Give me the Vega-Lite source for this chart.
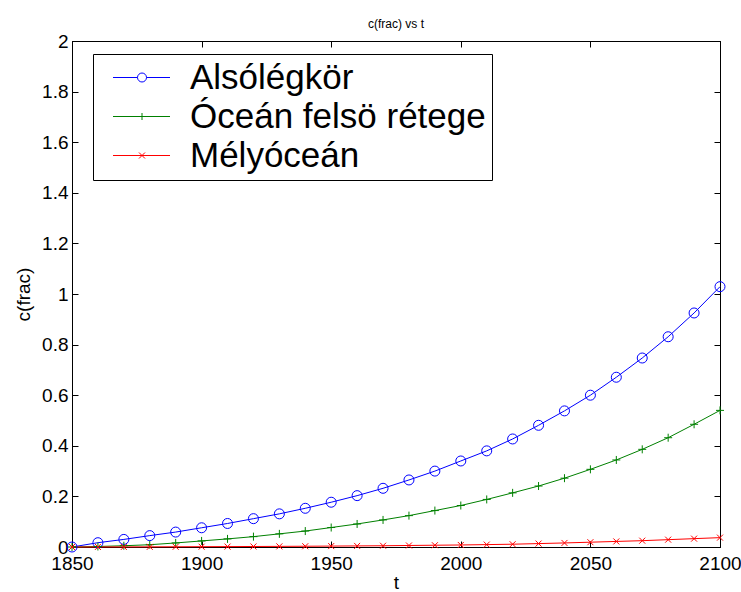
{
  "$schema": "https://vega.github.io/schema/vega-lite/v6.json",
  "width": 648,
  "height": 506,
  "autosize": {"type": "none"},
  "padding": {"left": 72, "top": 41, "right": 21, "bottom": 45},
  "background": "white",
  "title": {"text": "c(frac) vs t", "fontSize": 12, "fontWeight": "normal", "font": "Liberation Sans", "color": "black", "offset": 1},
  "config": {
    "view": {"stroke": "black", "strokeWidth": 1},
    "font": "Liberation Sans",
    "axis": {"grid": false, "labelFlush": false, "domainColor": "black", "tickColor": "black", "labelColor": "black", "titleColor": "black", "labelFont": "Liberation Sans", "titleFont": "Liberation Sans", "labelFontSize": 19, "titleFontSize": 19, "titleFontWeight": "normal", "domainWidth": 1, "tickWidth": 1}
  },
  "data": {"values": [
    {"t": 1850, "c": 0, "series": "Alsólégkör"},
    {"t": 1860, "c": 0.017, "series": "Alsólégkör"},
    {"t": 1870, "c": 0.030, "series": "Alsólégkör"},
    {"t": 1880, "c": 0.045, "series": "Alsólégkör"},
    {"t": 1890, "c": 0.059, "series": "Alsólégkör"},
    {"t": 1900, "c": 0.076, "series": "Alsólégkör"},
    {"t": 1910, "c": 0.093, "series": "Alsólégkör"},
    {"t": 1920, "c": 0.112, "series": "Alsólégkör"},
    {"t": 1930, "c": 0.131, "series": "Alsólégkör"},
    {"t": 1940, "c": 0.153, "series": "Alsólégkör"},
    {"t": 1950, "c": 0.177, "series": "Alsólégkör"},
    {"t": 1960, "c": 0.203, "series": "Alsólégkör"},
    {"t": 1970, "c": 0.232, "series": "Alsólégkör"},
    {"t": 1980, "c": 0.265, "series": "Alsólégkör"},
    {"t": 1990, "c": 0.300, "series": "Alsólégkör"},
    {"t": 2000, "c": 0.340, "series": "Alsólégkör"},
    {"t": 2010, "c": 0.380, "series": "Alsólégkör"},
    {"t": 2020, "c": 0.427, "series": "Alsólégkör"},
    {"t": 2030, "c": 0.481, "series": "Alsólégkör"},
    {"t": 2040, "c": 0.538, "series": "Alsólégkör"},
    {"t": 2050, "c": 0.600, "series": "Alsólégkör"},
    {"t": 2060, "c": 0.671, "series": "Alsólégkör"},
    {"t": 2070, "c": 0.747, "series": "Alsólégkör"},
    {"t": 2080, "c": 0.831, "series": "Alsólégkör"},
    {"t": 2090, "c": 0.925, "series": "Alsólégkör"},
    {"t": 2100, "c": 1.029, "series": "Alsólégkör"},
    {"t": 1850, "c": 0, "series": "Óceán felsö rétege"},
    {"t": 1860, "c": 0.002, "series": "Óceán felsö rétege"},
    {"t": 1870, "c": 0.005, "series": "Óceán felsö rétege"},
    {"t": 1880, "c": 0.009, "series": "Óceán felsö rétege"},
    {"t": 1890, "c": 0.016, "series": "Óceán felsö rétege"},
    {"t": 1900, "c": 0.024, "series": "Óceán felsö rétege"},
    {"t": 1910, "c": 0.032, "series": "Óceán felsö rétege"},
    {"t": 1920, "c": 0.041, "series": "Óceán felsö rétege"},
    {"t": 1930, "c": 0.052, "series": "Óceán felsö rétege"},
    {"t": 1940, "c": 0.063, "series": "Óceán felsö rétege"},
    {"t": 1950, "c": 0.077, "series": "Óceán felsö rétege"},
    {"t": 1960, "c": 0.091, "series": "Óceán felsö rétege"},
    {"t": 1970, "c": 0.107, "series": "Óceán felsö rétege"},
    {"t": 1980, "c": 0.124, "series": "Óceán felsö rétege"},
    {"t": 1990, "c": 0.144, "series": "Óceán felsö rétege"},
    {"t": 2000, "c": 0.164, "series": "Óceán felsö rétege"},
    {"t": 2010, "c": 0.188, "series": "Óceán felsö rétege"},
    {"t": 2020, "c": 0.214, "series": "Óceán felsö rétege"},
    {"t": 2030, "c": 0.241, "series": "Óceán felsö rétege"},
    {"t": 2040, "c": 0.272, "series": "Óceán felsö rétege"},
    {"t": 2050, "c": 0.307, "series": "Óceán felsö rétege"},
    {"t": 2060, "c": 0.344, "series": "Óceán felsö rétege"},
    {"t": 2070, "c": 0.386, "series": "Óceán felsö rétege"},
    {"t": 2080, "c": 0.432, "series": "Óceán felsö rétege"},
    {"t": 2090, "c": 0.485, "series": "Óceán felsö rétege"},
    {"t": 2100, "c": 0.540, "series": "Óceán felsö rétege"},
    {"t": 1850, "c": 0, "series": "Mélyóceán"},
    {"t": 1860, "c": 0.0002, "series": "Mélyóceán"},
    {"t": 1870, "c": 0.0004, "series": "Mélyóceán"},
    {"t": 1880, "c": 0.0006, "series": "Mélyóceán"},
    {"t": 1890, "c": 0.0009, "series": "Mélyóceán"},
    {"t": 1900, "c": 0.0012, "series": "Mélyóceán"},
    {"t": 1910, "c": 0.0016, "series": "Mélyóceán"},
    {"t": 1920, "c": 0.002, "series": "Mélyóceán"},
    {"t": 1930, "c": 0.0025, "series": "Mélyóceán"},
    {"t": 1940, "c": 0.003, "series": "Mélyóceán"},
    {"t": 1950, "c": 0.0036, "series": "Mélyóceán"},
    {"t": 1960, "c": 0.0043, "series": "Mélyóceán"},
    {"t": 1970, "c": 0.005, "series": "Mélyóceán"},
    {"t": 1980, "c": 0.006, "series": "Mélyóceán"},
    {"t": 1990, "c": 0.007, "series": "Mélyóceán"},
    {"t": 2000, "c": 0.008, "series": "Mélyóceán"},
    {"t": 2010, "c": 0.0095, "series": "Mélyóceán"},
    {"t": 2020, "c": 0.011, "series": "Mélyóceán"},
    {"t": 2030, "c": 0.0135, "series": "Mélyóceán"},
    {"t": 2040, "c": 0.016, "series": "Mélyóceán"},
    {"t": 2050, "c": 0.019, "series": "Mélyóceán"},
    {"t": 2060, "c": 0.022, "series": "Mélyóceán"},
    {"t": 2070, "c": 0.025, "series": "Mélyóceán"},
    {"t": 2080, "c": 0.029, "series": "Mélyóceán"},
    {"t": 2090, "c": 0.033, "series": "Mélyóceán"},
    {"t": 2100, "c": 0.037, "series": "Mélyóceán"}
  ]},
  "resolve": {"axis": {"x": "independent", "y": "independent"}},
  "layer": [
    {
      "mark": {"type": "line", "strokeWidth": 1},
      "encoding": {
        "x": {"field": "t", "type": "quantitative", "scale": {"domain": [1850, 2100], "nice": false, "zero": false},
              "axis": {"orient": "bottom", "values": [1850, 1900, 1950, 2000, 2050, 2100], "format": "d", "tickSize": -6, "labelPadding": 13, "title": "t", "titlePadding": 0}},
        "y": {"field": "c", "type": "quantitative", "scale": {"domain": [0, 2], "nice": false, "zero": false},
              "axis": {"orient": "left", "values": [0, 0.2, 0.4, 0.6, 0.8, 1, 1.2, 1.4, 1.6, 1.8, 2], "format": "~g", "tickSize": -6, "labelPadding": 10, "title": "c(frac)", "titlePadding": 8}},
        "color": {"field": "series", "type": "nominal",
                  "scale": {"domain": ["Alsólégkör", "Óceán felsö rétege", "Mélyóceán"], "range": ["#0000ff", "#008000", "#ff0000"]}}
      }
    },
    {
      "mark": {"type": "point", "filled": false, "strokeWidth": 1, "size": 100, "opacity": 1},
      "encoding": {
        "x": {"field": "t", "type": "quantitative", "scale": {"domain": [1850, 2100], "nice": false, "zero": false},
              "axis": {"orient": "top", "values": [1850, 1900, 1950, 2000, 2050, 2100], "labels": false, "tickSize": -6, "title": null}},
        "y": {"field": "c", "type": "quantitative", "scale": {"domain": [0, 2], "nice": false, "zero": false},
              "axis": {"orient": "right", "values": [0, 0.2, 0.4, 0.6, 0.8, 1, 1.2, 1.4, 1.6, 1.8, 2], "labels": false, "tickSize": -6, "title": null}},
        "color": {"field": "series", "type": "nominal"},
        "shape": {"condition": [
                    {"test": "datum.series === 'Alsólégkör'", "value": "circle"},
                    {"test": "datum.series === 'Mélyóceán'", "value": "M-0.6,-0.6L0.6,0.6M-0.6,0.6L0.6,-0.6"}
                  ], "value": "M-0.8,0H0.8M0,-0.8V0.8"}
      }
    },
    {
      "transform": [{"filter": "datum.t < 0"}],
      "mark": {"type": "point", "filled": false, "strokeWidth": 1, "size": 100, "opacity": 1},
      "encoding": {
        "color": {"field": "series", "type": "nominal",
                  "legend": {
                    "orient": "none", "legendX": 21, "legendY": 13, "title": null, "padding": 6,
                    "fillColor": "white", "strokeColor": "black", "cornerRadius": 0,
                    "labelFontSize": 35, "labelFont": "Liberation Sans", "labelColor": "black", "labelLimit": 500,
                    "labelOffset": 56, "symbolSize": 100, "symbolStrokeWidth": 1, "symbolOpacity": 1, "rowPadding": 3
                  }},
        "shape": {"field": "series", "type": "nominal",
                  "scale": {"domain": ["Alsólégkör", "Óceán felsö rétege", "Mélyóceán"],
                            "range": ["M-0.7,0H4.2M6,0H10.7M6,0A0.9,0.9 0 1,1 4.2,0A0.9,0.9 0 1,1 6,0", "M-0.7,0H10.7M5.1,-0.7V0.7", "M-0.7,0H10.7M4.5,-0.6L5.7,0.6M4.5,0.6L5.7,-0.6"]},
                  "legend": {
                    "orient": "none", "legendX": 21, "legendY": 13, "title": null, "padding": 6,
                    "fillColor": "white", "strokeColor": "black", "cornerRadius": 0,
                    "labelFontSize": 35, "labelFont": "Liberation Sans", "labelColor": "black", "labelLimit": 500,
                    "labelOffset": 56, "symbolSize": 100, "symbolStrokeWidth": 1, "symbolOpacity": 1, "rowPadding": 3
                  }}
      }
    }
  ]
}
